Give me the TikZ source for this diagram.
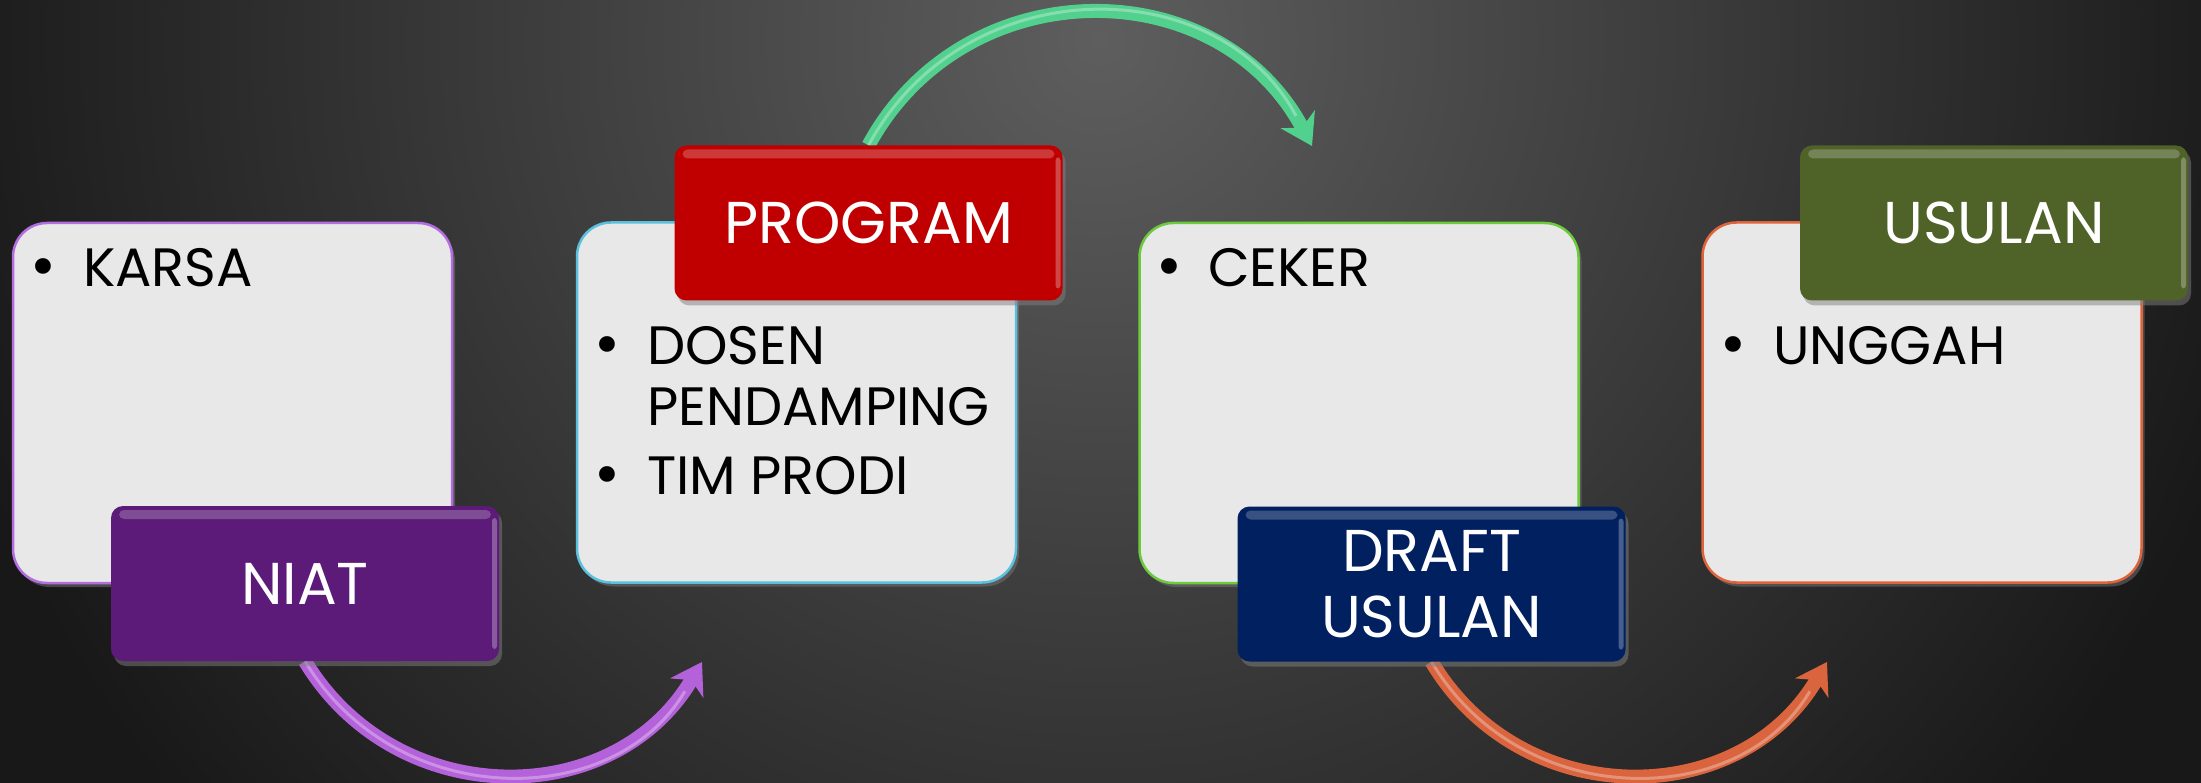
\documentclass[tikz,border=0pt]{standalone}
\usepackage{fontspec}
\setmainfont{Poppins}
\newfontfamily\bulletfont{DejaVu Sans}
\usetikzlibrary{arrows.meta,shadows}
\definecolor{bgdark}{HTML}{181818}
\definecolor{bglight}{HTML}{5E5E5E}
\definecolor{boxfill}{HTML}{E8E8E8}
\definecolor{cpurple}{HTML}{B36DE0}
\definecolor{ccyan}{HTML}{5BC0DE}
\definecolor{cgreen}{HTML}{6CCB3C}
\definecolor{corange}{HTML}{E0643A}
\definecolor{lpurple}{HTML}{5C1B78}
\definecolor{lred}{HTML}{C00000}
\definecolor{lnavy}{HTML}{002060}
\definecolor{lolive}{HTML}{4F6228}
\definecolor{apurple}{HTML}{B462DA}
\definecolor{agreen}{HTML}{52D08E}
\definecolor{aorange}{HTML}{D9643E}
\pgfdeclarelayer{bglayer}
\pgfdeclarelayer{arrowlayer}
\pgfsetlayers{bglayer,arrowlayer,main}
\tikzset{
  card/.style={draw=#1, line width=2.5pt, fill=boxfill, rounded corners=34pt,
    minimum width=439pt, minimum height=360pt, inner sep=0pt,
    drop shadow={opacity=0.45, shadow xshift=3pt, shadow yshift=-4pt}},
  tag/.style={fill=#1, rounded corners=12pt, text=white, minimum width=388pt,
    minimum height=155pt, inner sep=0pt, align=center,
    font=\fontsize{59}{66}\selectfont,
    drop shadow={opacity=0.5, shadow xshift=3pt, shadow yshift=-5pt},
    path picture={
      \fill[white,opacity=.22,rounded corners=5pt]
        ([xshift=8pt,yshift=-4pt]path picture bounding box.north west) rectangle
        ([xshift=-8pt,yshift=-13pt]path picture bounding box.north east);
      \fill[white,opacity=.28,rounded corners=3pt]
        ([xshift=-7pt,yshift=-12pt]path picture bounding box.north east) rectangle
        ([xshift=-2pt,yshift=12pt]path picture bounding box.south east);
    }},
  item/.style={anchor=base west, inner sep=0pt, text=black, font=\fontsize{54}{60}\selectfont},
  dot/.style={anchor=base, inner sep=0pt, text=black, font=\bulletfont\fontsize{54}{60}\selectfont},
  tube/.style={line width=14pt, draw=#1,
    -{Stealth[length=30pt,width=38pt,inset=9pt]}},
  shine/.style={line width=3pt, draw=white, opacity=.3, shorten >=34pt}
}
\begin{document}
\begin{tikzpicture}[x=1pt,y=-1pt]
\useasboundingbox (0,0) rectangle (2201,783);
\begin{pgfonlayer}{bglayer}
  \fill[bgdark] (0,0) rectangle (2201,783);
  \begin{scope}
    \clip (0,0) rectangle (2201,783);
    \shade[inner color=bglight, outer color=bgdark] (1100,40) circle [radius=1200];
  \end{scope}
\end{pgfonlayer}

% content cards
\node[card=cpurple] (b1) at (232.5,403) {};
\node[card=ccyan]   (b2) at (796.5,402.5) {};
\node[card=cgreen]  (b3) at (1359,403) {};
\node[card=corange] (b4) at (1922,402.5) {};

% bullets and items
\node[dot]  (d1) at (43,287) {•};
\node[item] (k1) at (83,287) {KARSA};
\node[dot]  (d2) at (607,365) {•};
\node[item] (k2) at (647,365) {DOSEN};
\node[item] (k3) at (647,425) {PENDAMPING};
\node[dot]  (d3) at (607,494) {•};
\node[item] (k4) at (647,494) {TIM PRODI};
\node[dot]  (d4) at (1169,287) {•};
\node[item] (k5) at (1208,287) {CEKER};
\node[dot]  (d5) at (1733,365) {•};
\node[item] (k6) at (1773,365) {UNGGAH};

% title tags
\node[tag=lpurple] (l1) at (305,583.5) {NIAT};
\node[tag=lred]    (l2) at (868.5,223) {PROGRAM};
\node[tag=lnavy]   (l3) at (1431.5,584) {DRAFT\\USULAN};
\node[tag=lolive]  (l4) at (1994,223) {USULAN};

% curved arrows
\coordinate (t1) at (702,662);
\coordinate (t2) at (1312,146);
\coordinate (t3) at (1827,662);
\begin{pgfonlayer}{arrowlayer}
  \draw[tube=apurple] (l1.south) .. controls (396,812) and (614,812) .. (t1);
  \draw[shine] (l1.south) .. controls (396,812) and (614,812) .. (t1);
  \draw[tube=agreen] (l2.north) .. controls (964,-31) and (1218,-31) .. (t2);
  \draw[shine] (l2.north) .. controls (964,-31) and (1218,-31) .. (t2);
  \draw[tube=aorange] (l3.south) .. controls (1521,812) and (1739,812) .. (t3);
  \draw[shine] (l3.south) .. controls (1521,812) and (1739,812) .. (t3);
\end{pgfonlayer}
\end{tikzpicture}
\end{document}
